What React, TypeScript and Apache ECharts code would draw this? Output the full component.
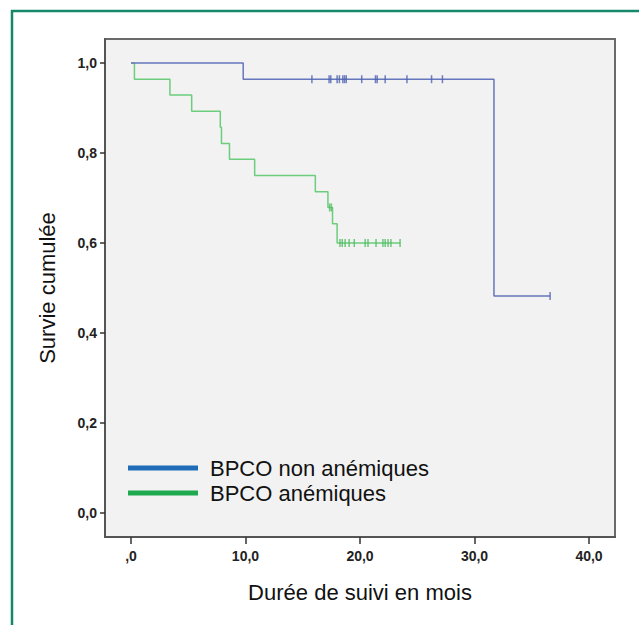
import React, { useEffect, useRef } from "react";
import * as echarts from "echarts";

// Kaplan-Meier steps: event times (months) and survival after each time
const blueTimes = [0, 9.8, 31.7, 36.6];
const blueSurv = [1.0, 0.964, 0.482, 0.482];
const greenTimes = [0, 0.3, 3.4, 5.3, 7.8, 7.9, 8.6, 10.8, 16.1, 17.2, 17.6, 18.0, 23.5];
const greenSurv = [1.0, 0.964, 0.929, 0.893, 0.857, 0.821, 0.786, 0.75, 0.714, 0.679, 0.643, 0.6, 0.6];

// censored observations
const blueCensTimes = [15.8, 17.3, 17.45, 18.0, 18.2, 18.5, 18.65, 18.8, 20.15, 21.35, 21.5, 22.2, 24.1, 26.25, 27.2, 36.6];
const blueCensSurv = [0.964, 0.964, 0.964, 0.964, 0.964, 0.964, 0.964, 0.964, 0.964, 0.964, 0.964, 0.964, 0.964, 0.964, 0.964, 0.482];
const greenCensTimes = [17.35, 17.5, 18.25, 18.45, 18.7, 19.05, 19.5, 20.45, 20.7, 21.4, 22.0, 22.2, 22.45, 22.7, 23.5];
const greenCensSurv = [0.679, 0.679, 0.6, 0.6, 0.6, 0.6, 0.6, 0.6, 0.6, 0.6, 0.6, 0.6, 0.6, 0.6, 0.6];

const xTicks = [0, 10, 20, 30, 40];
const yTicks = [0, 0.2, 0.4, 0.6, 0.8, 1.0];

const seriesNames = ["BPCO non anémiques", "BPCO anémiques"];

const zip = (a: number[], b: number[]) => a.map((v, i) => [v, b[i]]);

export default function App() {
  const ref = useRef<HTMLDivElement>(null);
  useEffect(() => {
    if (!ref.current) return;
    const chart = echarts.init(ref.current, undefined, { renderer: "svg" });
    const font = "Liberation Sans, Arial, sans-serif";
    const tickFont = { fontFamily: font, fontSize: 14, fontWeight: "bold" as const, color: "#222" };
    chart.setOption({
      animation: false,
      backgroundColor: "#ffffff",
      grid: {
        left: 105,
        top: 39,
        right: 24,
        bottom: 88,
        show: true,
        backgroundColor: "#f2f2f2",
        borderColor: "#6a6a6a",
        borderWidth: 2,
      },
      legend: {
        orient: "vertical",
        left: 128,
        top: 456,
        padding: 0,
        itemWidth: 70,
        itemHeight: 5,
        itemGap: 1,
        icon: "rect",
        textStyle: {
          fontFamily: font,
          fontSize: 22,
          lineHeight: 24,
          color: "#111",
          padding: [0, 0, 0, 7],
        },
        data: [
          { name: seriesNames[0], itemStyle: { color: "#1f6cb8" } },
          { name: seriesNames[1], itemStyle: { color: "#1faa4f" } },
        ],
      },
      xAxis: {
        type: "value",
        min: -2.27,
        max: 42.27,
        name: "Durée de suivi en mois",
        nameLocation: "middle",
        nameGap: 44,
        nameTextStyle: { fontFamily: font, fontSize: 22, color: "#111" },
        axisLine: { show: true, onZero: false, lineStyle: { color: "#555", width: 2 } },
        axisTick: { show: true, length: 7, customValues: xTicks, lineStyle: { color: "#333", width: 1.5 } },
        axisLabel: {
          ...tickFont,
          margin: 12,
          customValues: xTicks,
          formatter: (v: number) => (v === 0 ? ",0" : v.toFixed(1).replace(".", ",")),
        },
        splitLine: { show: false },
      },
      yAxis: {
        type: "value",
        min: -0.0533,
        max: 1.0533,
        name: "Survie cumulée",
        nameLocation: "middle",
        nameGap: 47,
        nameTextStyle: { fontFamily: font, fontSize: 22, color: "#111" },
        axisLine: { show: true, onZero: false, lineStyle: { color: "#555", width: 2 } },
        axisTick: { show: true, length: 5, customValues: yTicks, lineStyle: { color: "#333", width: 1.5 } },
        axisLabel: {
          ...tickFont,
          margin: 8,
          customValues: yTicks,
          formatter: (v: number) => v.toFixed(1).replace(".", ","),
        },
        splitLine: { show: false },
      },
      graphic: [
        {
          type: "rect",
          shape: { x: 12, y: 11, width: 700, height: 700 },
          style: { fill: "none", stroke: "#15876b", lineWidth: 2.5 },
          silent: true,
        },
      ],
      series: [
        {
          name: seriesNames[0],
          type: "line",
          step: "end",
          data: zip(blueTimes, blueSurv),
          showSymbol: false,
          symbol: "none",
          lineStyle: { color: "#6577bd", width: 1.5 },
          itemStyle: { color: "#6577bd" },
          z: 3,
        },
        {
          name: seriesNames[1],
          type: "line",
          step: "end",
          data: zip(greenTimes, greenSurv),
          showSymbol: false,
          symbol: "none",
          lineStyle: { color: "#6ccd7c", width: 1.5 },
          itemStyle: { color: "#6ccd7c" },
          z: 2,
        },
        {
          name: "censure-1",
          type: "scatter",
          data: zip(blueCensTimes, blueCensSurv),
          symbol: "rect",
          symbolSize: [1.5, 8],
          itemStyle: { color: "#4d60b0" },
          z: 4,
        },
        {
          name: "censure-2",
          type: "scatter",
          data: zip(greenCensTimes, greenCensSurv),
          symbol: "rect",
          symbolSize: [1.5, 8],
          itemStyle: { color: "#4dbb60" },
          z: 4,
        },
      ],
    });
    return () => chart.dispose();
  }, []);
  return (
    <div
      ref={ref}
      style={{ position: "fixed", left: 0, top: 0, width: 639, height: 625 }}
    />
  );
}
